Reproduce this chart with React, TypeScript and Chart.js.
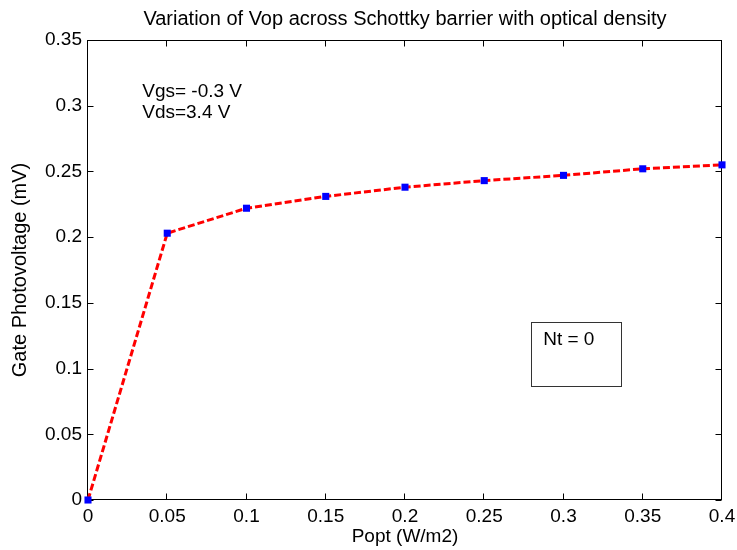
import React, { useEffect, useRef } from 'react';
import { Chart, registerables } from 'chart.js';

Chart.register(...registerables);

// ---- data ----
const poptValues = [0, 0.05, 0.1, 0.15, 0.2, 0.25, 0.3, 0.35, 0.4];
const vopValues = [0, 0.203, 0.222, 0.231, 0.238, 0.243, 0.247, 0.252, 0.255];

const xTickValues = [0, 0.05, 0.1, 0.15, 0.2, 0.25, 0.3, 0.35, 0.4];
const xTickLabels = ['0', '0.05', '0.1', '0.15', '0.2', '0.25', '0.3', '0.35', '0.4'];
const yTickValues = [0, 0.05, 0.1, 0.15, 0.2, 0.25, 0.3, 0.35];
const yTickLabels = ['0', '0.05', '0.1', '0.15', '0.2', '0.25', '0.3', '0.35'];

const titleText = 'Variation of Vop across Schottky barrier with optical density';
const xTitleText = 'Popt (W/m2)';
const yTitleText = 'Gate Photovoltage (mV)';
const infoLines = ['Vgs= -0.3 V', 'Vds=3.4 V'];
const boxText = 'Nt = 0';

// annotation anchors in data units
const infoAnchor = { x: 0.0342, y: [0.3105, 0.2945] };
const boxAnchor = { x1: 0.2792, x2: 0.336, y1: 0.1351, y2: 0.0871, tx: 0.2872, ty: 0.1217 };

const FONT = '"Liberation Sans", Arial, Helvetica, sans-serif';
const FS = 19;
const TITLE_FS = 20;

const framePlugin = {
  id: 'matlabFrame',
  beforeDatasetsDraw(chart: any) {
    const { ctx, chartArea, scales } = chart;
    const { left, top, right, bottom } = chartArea;
    const x = scales.x;
    const y = scales.y;
    ctx.save();
    ctx.strokeStyle = '#000';
    ctx.lineWidth = 1;
    const L = Math.round(left) - 0.5;
    const R = Math.round(right) - 0.5;
    const T = Math.round(top) + 0.5;
    const B = Math.round(bottom) - 0.5;
    ctx.strokeRect(L, T, R - L, B - T);
    const tl = 6;
    ctx.beginPath();
    xTickValues.forEach((v) => {
      const px = Math.round(x.getPixelForValue(v)) - 0.5;
      ctx.moveTo(px, B);
      ctx.lineTo(px, B - tl);
      ctx.moveTo(px, T);
      ctx.lineTo(px, T + tl);
    });
    yTickValues.forEach((v) => {
      const py = Math.round(y.getPixelForValue(v)) + 0.5;
      ctx.moveTo(L, py);
      ctx.lineTo(L + tl, py);
      ctx.moveTo(R, py);
      ctx.lineTo(R - tl, py);
    });
    ctx.stroke();

    // annotations
    ctx.fillStyle = '#000';
    ctx.font = `${FS}px ${FONT}`;
    ctx.textAlign = 'left';
    ctx.textBaseline = 'middle';
    infoLines.forEach((t, i) => {
      ctx.fillText(t, x.getPixelForValue(infoAnchor.x), y.getPixelForValue(infoAnchor.y[i]));
    });
    const bx1 = Math.round(x.getPixelForValue(boxAnchor.x1)) + 0.5;
    const bx2 = Math.round(x.getPixelForValue(boxAnchor.x2)) + 0.5;
    const by1 = Math.round(y.getPixelForValue(boxAnchor.y1)) + 0.5;
    const by2 = Math.round(y.getPixelForValue(boxAnchor.y2)) + 0.5;
    ctx.strokeStyle = '#333';
    ctx.strokeRect(bx1, by1, bx2 - bx1, by2 - by1);
    ctx.fillText(boxText, x.getPixelForValue(boxAnchor.tx), y.getPixelForValue(boxAnchor.ty));
    ctx.restore();
  },
};

export default function App() {
  const ref = useRef<HTMLCanvasElement | null>(null);

  useEffect(() => {
    document.body.style.margin = '0';
    const canvas = ref.current;
    if (!canvas) return;
    const chart = new Chart(canvas, {
      type: 'line',
      data: {
        datasets: [
          {
            data: poptValues.map((p, i) => ({ x: p, y: vopValues[i] })),
            borderColor: '#ff0000',
            borderWidth: 3,
            borderDash: [7, 3],
            pointStyle: 'rect',
            pointRadius: 5,
            pointBackgroundColor: '#0000ff',
            pointBorderColor: '#0000ff',
            pointBorderWidth: 0,
            tension: 0,
            fill: false,
            clip: false as any,
          },
        ],
      },
      options: {
        animation: false,
        responsive: false,
        devicePixelRatio: 1,
        layout: { padding: { left: 0, right: 15, top: 0, bottom: 0 } },
        plugins: {
          legend: { display: false },
          tooltip: { enabled: false },
          title: {
            display: true,
            text: titleText,
            color: '#000',
            fullSize: false,
            font: { family: FONT, size: TITLE_FS, weight: 'normal', lineHeight: 1.2 },
            padding: { top: 7, bottom: 9 },
          },
        },
        scales: {
          x: {
            type: 'linear',
            min: 0,
            max: 0.4,
            grid: { display: false, drawTicks: false },
            border: { display: false },
            afterBuildTicks: (scale: any) => {
              scale.ticks = xTickValues.map((v) => ({ value: v }));
            },
            afterFit: (scale: any) => {
              scale.height = 50;
              scale.paddingLeft = 0;
              scale.paddingRight = 0;
            },
            ticks: {
              autoSkip: false,
              maxRotation: 0,
              padding: 5,
              color: '#000',
              font: { family: FONT, size: FS },
              callback: (_v: any, i: number) => xTickLabels[i],
            },
            title: {
              display: true,
              text: xTitleText,
              color: '#000',
              font: { family: FONT, size: FS, lineHeight: 1.2 },
              padding: { top: 0, bottom: 2 },
            },
          },
          y: {
            type: 'linear',
            min: 0,
            max: 0.35,
            grid: { display: false, drawTicks: false },
            border: { display: false },
            afterBuildTicks: (scale: any) => {
              scale.ticks = yTickValues.map((v) => ({ value: v }));
            },
            afterFit: (scale: any) => {
              scale.width = 88;
              scale.paddingTop = 0;
              scale.paddingBottom = 0;
            },
            ticks: {
              autoSkip: false,
              padding: 6,
              color: '#000',
              font: { family: FONT, size: FS },
              callback: (_v: any, i: number) => yTickLabels[i],
            },
            title: {
              display: true,
              text: yTitleText,
              color: '#000',
              font: { family: FONT, size: TITLE_FS, lineHeight: 1.2 },
              padding: { top: 8, bottom: 0 },
            },
          },
        },
      },
      plugins: [framePlugin],
    });
    return () => chart.destroy();
  }, []);

  return <canvas ref={ref} width={737} height={550} style={{ display: 'block' }} />;
}
